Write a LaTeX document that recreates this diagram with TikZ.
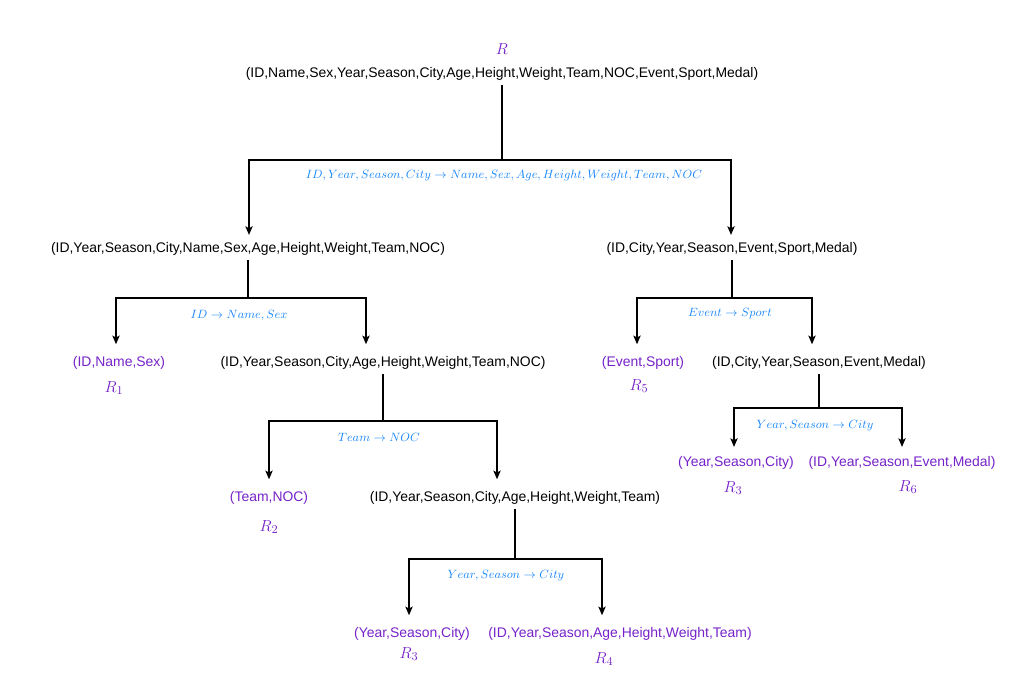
\documentclass[tikz,border=0pt]{standalone}
\usepackage{fontspec}
\setmainfont{Liberation Sans}
\usepackage{amsmath}
\definecolor{relPurple}{RGB}{118,34,200}
\definecolor{fdBlue}{RGB}{25,135,250}
\usetikzlibrary{arrows.meta,positioning,calc}

\begin{document}
\begin{tikzpicture}[x=0.75pt, y=-0.75pt,
  rel/.style={font=\fontsize{10.45}{12}\selectfont, inner xsep=1pt, inner ysep=3pt, yshift=-1.5pt},
  final/.style={rel, text=relPurple},
  fd/.style={font=\fontsize{8.85}{10}\selectfont, text=fdBlue},
  rname/.style={font=\fontsize{13}{15}\selectfont, text=relPurple},
  trunk/.style={line width=0.9pt},
  arr/.style={trunk, -{Stealth[length=6.5pt,width=5.5pt,inset=1.5pt]}, shorten >=6pt}
]
  \useasboundingbox (0,0) rectangle (1034,683);

  % top relation
  \node[rname] (nR) at (502,49) {$R$};
  \node[rel] (r) at (502,72) {(ID,Name,Sex,Year,Season,City,Age,Height,Weight,Team,NOC,Event,Sport,Medal)};

  % first split
  \coordinate (b0) at (502,160);
  \node[fd] (fd0) at (504,175) {$ID, Year, Season, City \rightarrow Name, Sex, Age, Height, Weight, Team, NOC$};
  \node[rel] (rA) at (248,247) {(ID,Year,Season,City,Name,Sex,Age,Height,Weight,Team,NOC)};
  \node[rel] (rB) at (732,247) {(ID,City,Year,Season,Event,Sport,Medal)};

  % left branch
  \coordinate (b1) at (248,298);
  \node[fd] (fd1) at (239,316) {$ID \rightarrow Name, Sex$};
  \node[final] (r1) at (119,361) {(ID,Name,Sex)};
  \node[rname] (n1) at (114,388) {$R_1$};
  \node[rel] (rC) at (383,361) {(ID,Year,Season,City,Age,Height,Weight,Team,NOC)};

  \coordinate (b2) at (383,421);
  \node[fd] (fd2) at (379,437) {$Team \rightarrow NOC$};
  \node[final] (r2) at (269,496) {(Team,NOC)};
  \node[rname] (n2) at (269,527) {$R_2$};
  \node[rel] (rD) at (515,496) {(ID,Year,Season,City,Age,Height,Weight,Team)};

  \coordinate (b3) at (515,559);
  \node[fd] (fd3) at (506,576) {$Year, Season \rightarrow City$};
  \node[final] (r3) at (412,632) {(Year,Season,City)};
  \node[rname] (n3) at (409,654) {$R_3$};
  \node[final] (r4) at (620,632) {(ID,Year,Season,Age,Height,Weight,Team)};
  \node[rname] (n4) at (604,659) {$R_4$};

  % right branch
  \coordinate (b4) at (732,298);
  \node[fd] (fd4) at (730,314) {$Event \rightarrow Sport$};
  \node[final] (r5) at (643,361) {(Event,Sport)};
  \node[rname] (n5) at (639,386) {$R_5$};
  \node[rel] (rE) at (819,361) {(ID,City,Year,Season,Event,Medal)};

  \coordinate (b5) at (819,408);
  \node[fd] (fd5) at (815,426) {$Year, Season \rightarrow City$};
  \node[final] (r3b) at (736,461) {(Year,Season,City)};
  \node[rname] (n3b) at (733,488) {$R_3$};
  \node[final] (r6) at (902,461) {(ID,Year,Season,Event,Medal)};
  \node[rname] (n6) at (908,487) {$R_6$};

  % connectors
  \draw[trunk] (r) -- (b0);
  \draw[arr, shorten >=2.5pt] (b0) -| ($(rA.north)+(1,0)$);
  \draw[arr, shorten >=2.5pt] (b0) -| ($(rB.north)+(-1,0)$);

  \draw[trunk] (rA) -- (b1);
  \draw[arr] (b1) -| ($(r1.north)+(-3,0)$);
  \draw[arr] (b1) -| ($(rC.north)+(-17,0)$);

  \draw[trunk] (rC) -- (b2);
  \draw[arr] (b2) -| (r2);
  \draw[arr] (b2) -| ($(rD.north)+(-18,0)$);

  \draw[trunk] (rD) -- (b3);
  \draw[arr] (b3) -| ($(r3.north)+(-3,0)$);
  \draw[arr] (b3) -| ($(r4.north)+(-18,0)$);

  \draw[trunk] (rB) -- (b4);
  \draw[arr] (b4) -| ($(r5.north)+(-6,0)$);
  \draw[arr] (b4) -| ($(rE.north)+(-7,0)$);

  \draw[trunk] (rE) -- (b5);
  \draw[arr, shorten >=4pt] (b5) -| ($(r3b.north)+(-2,0)$);
  \draw[arr, shorten >=4pt] (b5) -| (r6);
\end{tikzpicture}
\end{document}
